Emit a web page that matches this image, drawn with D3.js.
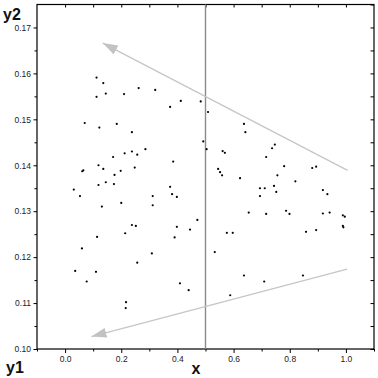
<!DOCTYPE html>
<html>
<head>
<meta charset="utf-8">
<script src="https://cdn.jsdelivr.net/npm/d3@7"></script>
<style>
  body { margin: 0; background: #fff; }
  svg { display: block; }
</style>
</head>
<body>
<div id="chart"></div>
<script>
// scatter values
var xs = [0.112,0.136,0.112,0.145,0.210,0.070,0.122,0.184,0.212,0.171,
          0.119,0.136,0.065,0.061,0.176,0.198,0.145,0.119,0.174,0.031,
          0.053,0.200,0.131,0.114,0.214,0.060,0.036,0.110,0.077,0.217,
          0.216,0.257,0.309,0.409,0.440,0.533,0.637,0.588,0.709,0.847,
          0.262,0.321,0.374,0.412,0.483,0.509,0.637,0.238,0.642,0.492,
          0.504,0.238,0.257,0.286,0.385,0.248,0.561,0.569,0.545,0.552,
          0.559,0.623,0.374,0.381,0.398,0.312,0.312,0.654,0.471,0.238,
          0.252,0.398,0.445,0.390,0.576,0.597,0.747,0.737,0.716,0.780,
          0.880,0.894,0.756,0.820,0.694,0.711,0.744,0.752,0.694,0.918,
          0.934,0.716,0.787,0.799,0.918,0.942,0.989,0.996,0.989,0.991,
          0.858,0.894]
var ys = [0.1591,0.1579,0.1549,0.1556,0.1555,0.1492,0.1482,0.1490,0.1426,0.1418,
          0.1400,0.1392,0.1389,0.1387,0.1379,0.1388,0.1363,0.1357,0.1359,0.1347,
          0.1333,0.1318,0.1310,0.1244,0.1252,0.1219,0.1170,0.1168,0.1147,0.1102,
          0.1089,0.1188,0.1208,0.1143,0.1128,0.1211,0.1160,0.1117,0.1147,0.1160,
          0.1568,0.1564,0.1527,0.1540,0.1539,0.1516,0.1490,0.1472,0.1472,0.1452,
          0.1435,0.1430,0.1423,0.1435,0.1408,0.1395,0.1431,0.1427,0.1392,0.1385,
          0.1378,0.1372,0.1353,0.1337,0.1331,0.1333,0.1313,0.1297,0.1281,0.1270,
          0.1268,0.1266,0.1260,0.1243,0.1253,0.1253,0.1445,0.1437,0.1418,0.1398,
          0.1394,0.1397,0.1378,0.1365,0.1350,0.1350,0.1355,0.1342,0.1333,0.1346,
          0.1337,0.1294,0.1301,0.1294,0.1295,0.1297,0.1291,0.1288,0.1268,0.1265,
          0.1255,0.1259]

// the two grey arrows: [tailX, tailY, tipX, tipY]
var arrowUpper = [1.006, 0.1389, 0.134, 0.1666]
var arrowLower = [1.004, 0.1174, 0.094, 0.1027]
var splitX = 0.5

var xTicks = [0.0, 0.2, 0.4, 0.6, 0.8, 1.0]
var yTicks = [0.10, 0.11, 0.12, 0.13, 0.14, 0.15, 0.16, 0.17]

var W = 378, H = 378
var pl = 37, pr = 374, pt = 4.5, pb = 349   // plot frame edges

var svg = d3.select("#chart").append("svg")
    .attr("width", W)
    .attr("height", H)

var x = d3.scaleLinear().domain([-0.1, 1.1]).range([pl, pr])
var y = d3.scaleLinear().domain([0.10, 0.175]).range([pb, pt])

var font = "'Liberation Sans', Arial, sans-serif"

// minor ticks
var xMinor = d3.range(-0.1, 1.101, 0.1).map(function(d){ return +d.toFixed(2) })
    .filter(function(d){ return xTicks.indexOf(d) < 0 })
var yMinor = d3.range(0.105, 0.175, 0.01).map(function(d){ return +d.toFixed(3) })
var yAll = d3.range(0.10, 0.1751, 0.005).map(function(d){ return +d.toFixed(3) })

function styleAxis(g){
  g.select(".domain").remove()
  g.selectAll("line").attr("stroke", "#000")
  g.selectAll("text").attr("fill", "#222").style("font-family", font).style("font-size", "8.5px")
}

// bottom
svg.append("g").attr("transform", "translate(0," + pb + ")")
  .call(d3.axisBottom(x).tickValues(xTicks).tickSize(4).tickPadding(3).tickFormat(d3.format(".1f")))
  .call(styleAxis)
svg.append("g").attr("transform", "translate(0," + pb + ")")
  .call(d3.axisBottom(x).tickValues(xMinor).tickSize(2.5).tickFormat(""))
  .call(styleAxis)
// left
svg.append("g").attr("transform", "translate(" + pl + ",0)")
  .call(d3.axisLeft(y).tickValues(yTicks).tickSize(3.5).tickPadding(2.5).tickFormat(d3.format(".2f")))
  .call(styleAxis)
svg.append("g").attr("transform", "translate(" + pl + ",0)")
  .call(d3.axisLeft(y).tickValues(yMinor).tickSize(2.5).tickFormat(""))
  .call(styleAxis)
// top, ticks inward
svg.append("g").attr("transform", "translate(0," + pt + ")")
  .call(d3.axisBottom(x).tickValues(d3.range(0, 1.01, 0.1)).tickSize(3).tickFormat(""))
  .call(styleAxis)
// right, ticks inward
svg.append("g").attr("transform", "translate(" + pr + ",0)")
  .call(d3.axisLeft(y).tickValues(yAll).tickSize(3.5).tickFormat(""))
  .call(styleAxis)

// frame
svg.append("rect")
  .attr("x", pl).attr("y", pt)
  .attr("width", pr - pl).attr("height", pb - pt)
  .attr("fill", "none").attr("stroke", "#000").attr("stroke-width", 1.2)

// vertical split line
svg.append("line")
  .attr("x1", x(splitX)).attr("x2", x(splitX))
  .attr("y1", pt).attr("y2", pb)
  .attr("stroke", "#8a8a8a").attr("stroke-width", 1.4)

// arrows
svg.append("defs").append("marker")
  .attr("id", "head")
  .attr("markerUnits", "userSpaceOnUse")
  .attr("markerWidth", 16).attr("markerHeight", 10)
  .attr("refX", 15).attr("refY", 5)
  .attr("orient", "auto")
  .append("path")
  .attr("d", "M0,0 L15,5 L0,10 Z")
  .attr("fill", "#c2c2c2")

;[arrowUpper, arrowLower].forEach(function(a){
  svg.append("line")
    .attr("x1", x(a[0])).attr("y1", y(a[1]))
    .attr("x2", x(a[2])).attr("y2", y(a[3]))
    .attr("stroke", "#c6c6c6").attr("stroke-width", 1.3)
    .attr("marker-end", "url(#head)")
})

// points
svg.append("g").selectAll("circle")
  .data(d3.range(xs.length))
  .enter().append("circle")
    .attr("cx", function(i){ return x(xs[i]) })
    .attr("cy", function(i){ return y(ys[i]) })
    .attr("r", 1.1)
    .attr("fill", "#000")

// axis titles
var titles = [
  {t: "y2", x: 3, y: 20, a: "start"},
  {t: "y1", x: 6, y: 373, a: "start"},
  {t: "x", x: 196, y: 374, a: "middle"}
]
svg.selectAll(".title").data(titles).enter().append("text")
  .attr("class", "title")
  .attr("x", function(d){ return d.x })
  .attr("y", function(d){ return d.y })
  .attr("text-anchor", function(d){ return d.a })
  .style("font-family", font)
  .style("font-weight", "bold")
  .style("font-size", "16px")
  .attr("fill", "#111")
  .text(function(d){ return d.t })
</script>
</body>
</html>
